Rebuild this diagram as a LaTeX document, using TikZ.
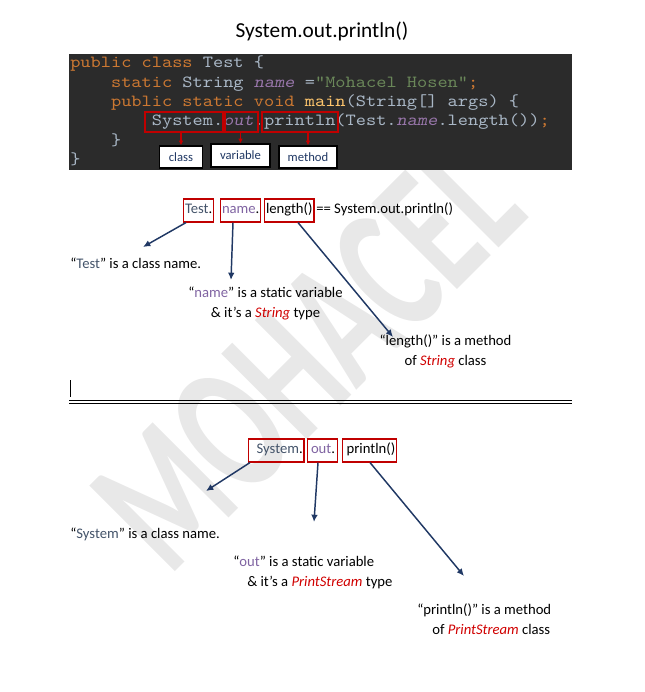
\documentclass[tikz,border=0pt]{standalone}
\usepackage{fontspec}
\setmainfont{Carlito}
\newfontfamily\codefont{lmmono10-regular.otf}[FakeStretch=1.143, ItalicFont=lmmonoslant10-regular.otf]
\usetikzlibrary{arrows.meta}

\definecolor{codebg}{HTML}{2B2B2B}
\definecolor{kwcol}{HTML}{CC7832}
\definecolor{plaincol}{HTML}{A9B7C6}
\definecolor{fieldcol}{HTML}{9876AA}
\definecolor{strcol}{HTML}{6A8759}
\definecolor{methcol}{HTML}{FFC66D}
\definecolor{boxred}{HTML}{C00000}
\definecolor{arrnavy}{HTML}{203864}
\definecolor{slate}{HTML}{44546A}
\definecolor{lilac}{HTML}{8064A2}
\definecolor{typered}{HTML}{D00000}
\definecolor{wmgray}{HTML}{E8E8E8}

\newcommand{\jkw}[1]{\textcolor{kwcol}{#1}}
\newcommand{\jfld}[1]{\textcolor{fieldcol}{\itshape #1}}
\newcommand{\jstr}[1]{\textcolor{strcol}{#1}}
\newcommand{\jmeth}[1]{\textcolor{methcol}{#1}}
\newcommand{\jtype}[1]{\textcolor{typered}{\itshape #1}}

\tikzset{
  codeline/.style={anchor=base west, inner sep=0pt, text=plaincol,
    font=\codefont\fontsize{12.75}{15}\selectfont},
  codebox/.style={draw=boxred, line width=1pt, inner sep=0pt, minimum height=15pt},
  lblbox/.style={draw=black, fill=white, line width=1pt, inner sep=0pt,
    text=arrnavy, font=\fontsize{9.5}{11}\selectfont},
  redarr/.style={draw=boxred, line width=0.9pt, -{Latex[length=3.5pt,width=3.5pt]}},
  partbox/.style={draw=boxred, line width=1pt, anchor=base west, inner xsep=1pt,
    inner ysep=0pt, text height=10.9pt, text depth=6.3pt},
  navyarr/.style={draw=arrnavy, line width=1.1pt, -{Latex[length=5.5pt,width=5pt]}},
  note/.style={inner sep=0pt, font=\fontsize{11}{15}\selectfont}
}

\begin{document}
\begin{tikzpicture}[x=0.75pt, y=-0.75pt, font=\fontsize{11}{15}\selectfont]
    \useasboundingbox (0,0) rectangle (644,692);

    % Watermark
    \node[rotate=45, anchor=base, inner sep=0pt, text=wmgray,
      font=\bfseries\fontsize{140}{140}\selectfont] (wm) at (350,397) {\scalebox{0.65}[1]{MOHACEL}};

    % Title
    \node[font=\fontsize{16}{18}\selectfont] (title) at (322,31) {System.out.println()};

    % Code block
    \fill[codebg] (69,54) rectangle (572,170);
    \node[codeline] (l1) at (70,68) {\jkw{public class} Test \{};
    \node[codeline] (l2) at (110.8,87.3) {\jkw{static} String \jfld{name} =\jstr{"Mohacel Hosen"}\jkw{;}};
    \node[codeline] (l3) at (110.8,106.6) {\jkw{public static void} \jmeth{main}(String[] args) \{};
    \node[codeline] (l4) at (151.6,125.9) {System.\jfld{out}.println(Test.\jfld{name}.length())\jkw{;}};
    \node[codeline] (l5) at (110.8,145.2) {\}};
    \node[codeline] (l6) at (70,164.5) {\}};

    % Red boxes on the println line
    \node[codebox, minimum width=58.5pt] (sysc) at (184,122) {};
    \node[codebox, minimum width=24.75pt] (outc) at (241.5,122) {};
    \node[codebox, minimum width=57pt] (prnc) at (300,122) {};

    % Labels under the boxes
    \node[lblbox, minimum width=32.25pt, minimum height=16.5pt] (cls) at (181,157) {class};
    \node[lblbox, minimum width=44.25pt, minimum height=17.25pt] (var) at (240.5,155.5) {variable};
    \node[lblbox, minimum width=43.5pt, minimum height=16.5pt] (mth) at (308,157) {method};

    \draw[redarr] (cls.north |- sysc.south) -- (cls.north);
    \draw[redarr] (var.north |- outc.south) -- (var.north);
    \draw[redarr] (mth.north |- prnc.south) -- (mth.north);

    % Test.name.length()
    \node[partbox] (test) at (183,213.5) {\textcolor{slate}{Test}.\ };
    \node[partbox] (name) at (220,213.5) {\textcolor{lilac}{name}.};
    \node[partbox] (len) at (264,213.5) {length()};
    \node[note, anchor=base west] (eq) at (316,213.5) {== System.out.println()};

    \coordinate (testend) at (143,247);
    \coordinate (nameend) at (231,280);
    \coordinate (lenend) at (393,337);

    \draw[navyarr] (test.south west) ++(3,0) -- (testend);
    \draw[navyarr] (name.south west) ++(13,0) -- (nameend);
    \draw[navyarr] (len.south west) ++(34,0) -- (lenend);

    \node[note, anchor=base west] (testtxt) at (70,268) {“\textcolor{slate}{Test}” is a class name.};
    \node[note, align=center] (nametxt) at (265.5,303) {“\textcolor{lilac}{name}” is a static variable\\ \& it’s a \jtype{String} type};
    \node[note, align=center] (lentxt) at (445.5,351.5) {“length()” is a method\\ of \jtype{String} class};

    % cursor and double rule
    \draw[line width=0.75pt] (70.5,380) -- (70.5,396.5);
    \draw[line width=0.6pt] (69,400.5) -- (572,400.5);
    \draw[line width=0.6pt] (69,403) -- (572,403);

    % System.out.println()
    \node[partbox] (sys) at (248,453.5) {\hspace*{5pt}\textcolor{slate}{System}.};
    \node[partbox] (out) at (307,453.5) {\hspace*{1.5pt}\textcolor{lilac}{out}.\hspace*{1pt}};
    \node[partbox] (prn) at (342,453.5) {\hspace*{2pt}println()};

    \coordinate (sysend) at (206,491);
    \coordinate (outend) at (314,522);
    \coordinate (prnend) at (464,576);

    \draw[navyarr] (sys.south west) ++(2,0) -- (sysend);
    \draw[navyarr] (out.south west) ++(11,0) -- (outend);
    \draw[navyarr] (prn.south west) ++(28,0) -- (prnend);

    \node[note, anchor=west] (systxt) at (70,534) {“\textcolor{slate}{System}” is a class name.};
    \node[note, align=left, anchor=west] (outtxt) at (233,572.5) {“\textcolor{lilac}{out}” is a static variable\\ \hspace*{10.5pt}\& it’s a \jtype{PrintStream} type};
    \node[note, align=left, anchor=west] (prntxt) at (417,619.5) {“println()” is a method\\ \hspace*{11.25pt}of \jtype{PrintStream} class};
\end{tikzpicture}
\end{document}
